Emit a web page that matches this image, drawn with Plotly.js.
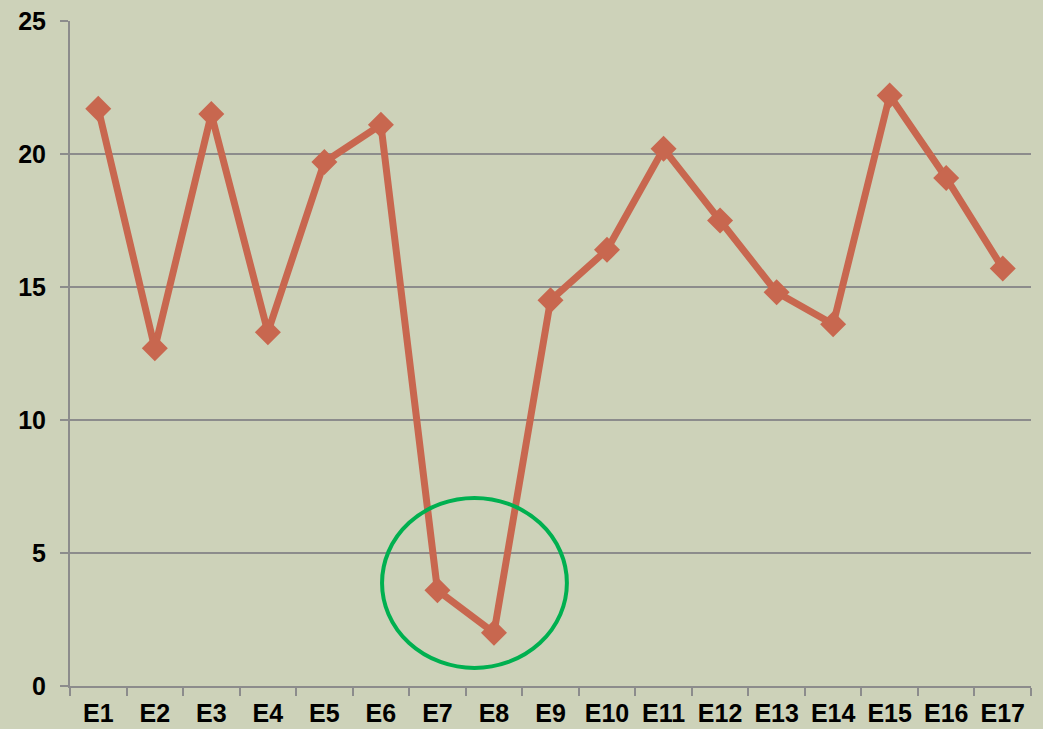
<!DOCTYPE html>
<html><head><meta charset="utf-8">
<script src="https://cdn.plot.ly/plotly-3.0.1.min.js"></script>
<style>html,body{margin:0;padding:0;background:#CDD2B9;overflow:hidden;}</style>
</head><body>
<div id="chart" style="width:1043px;height:729px;"></div>
<script>
const categories = ["E1","E2","E3","E4","E5","E6","E7","E8","E9","E10","E11","E12","E13","E14","E15","E16","E17"];
const values = [21.7,12.7,21.5,13.3,19.7,21.1,3.6,2.0,14.5,16.4,20.2,17.5,14.8,13.6,22.2,19.1,15.7];
const yTicks = [0,5,10,15,20,25];

const trace = {
  x: categories, y: values, type: 'scatter', mode: 'lines+markers',
  line: {color: '#C8674F', width: 7},
  marker: {symbol: 'diamond', size: 20, color: '#C8674F'},
  cliponaxis: false, hoverinfo: 'skip'
};
const tf = {family: 'Liberation Sans, Arial, sans-serif', size: 25, color: '#000', weight: 'bold'};
const layout = {
  width: 1043, height: 729,
  margin: {l: 70, r: 12, t: 21, b: 43},
  paper_bgcolor: '#CDD2B9', plot_bgcolor: '#CDD2B9',
  showlegend: false,
  xaxis: {
    type: 'category', range: [-0.5, 16.5], tickson: 'boundaries',
    ticks: 'outside', ticklen: 8, tickwidth: 2, tickcolor: '#8C8C8C',
    showline: true, linecolor: '#8C8C8C', linewidth: 2,
    showgrid: false, zeroline: false, automargin: false,
    ticklabelstandoff: 4,
    tickfont: tf
  },
  yaxis: {
    range: [0, 25], tickvals: yTicks, ticktext: yTicks.map(String),
    ticks: 'outside', ticklen: 8, tickwidth: 2, tickcolor: '#8C8C8C',
    showline: true, linecolor: '#8C8C8C', linewidth: 2,
    showgrid: true, gridcolor: '#8C8C8C', gridwidth: 2, zeroline: false,
    ticklabelstandoff: 9, automargin: false,
    tickfont: tf
  },
  shapes: [{
    type: 'circle', xref: 'x', yref: 'y',
    x0: 5.02, x1: 8.29, y0: 0.68, y1: 7.07,
    line: {color: '#00B050', width: 4}, fillcolor: 'rgba(0,0,0,0)', layer: 'above'
  }]
};
Plotly.newPlot('chart', [trace], layout, {displayModeBar: false, staticPlot: true});
</script>
</body></html>
